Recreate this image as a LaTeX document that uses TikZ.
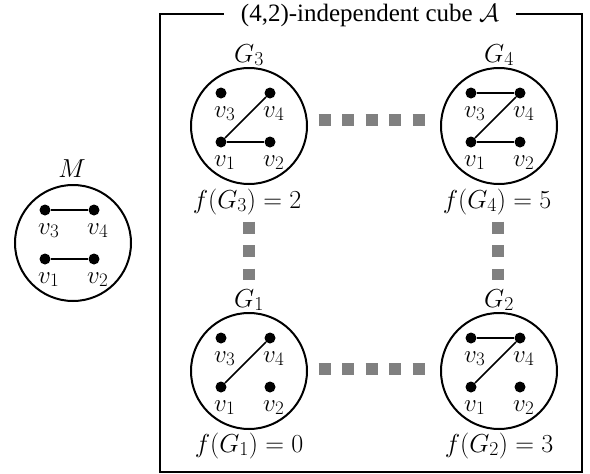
\RequirePackage{fix-cm}
\documentclass[tikz,border=0pt]{standalone}
\usepackage{fontspec}
\setmainfont{Liberation Serif}
\renewcommand\defaultscriptratio{.76}
\renewcommand\defaultscriptscriptratio{.6}
\definecolor{sqgray}{HTML}{808080}
\tikzset{
  dot/.style={circle, fill=black, inner sep=0pt, minimum size=11pt},
  gcirc/.style={circle, draw=black, line width=2pt, minimum size=116pt, inner sep=0pt, outer sep=0pt},
  edge/.style={line width=1.6pt},
  vlab/.style={inner sep=0pt, anchor=base west, font=\fontsize{25}{29}\selectfont},
  glab/.style={inner sep=0pt, anchor=base, font=\fontsize{26}{30}\selectfont},
  sq/.style={draw=sqgray, line width=12pt, dash pattern=on 12pt off 11.5pt},
  frame/.style={draw=black, line width=2pt},
  titlebox/.style={inner xsep=17pt, inner ysep=0pt, font=\fontsize{25}{29}\selectfont},
}
\newcommand{\mkgraph}[3]{%
  \node[gcirc] (#1) at (#2,#3) {};
  \node[dot] (#1v1) at ({#2-28},{#3+16}) {};
  \node[dot] (#1v2) at ({#2+21},{#3+16}) {};
  \node[dot] (#1v3) at ({#2-28},{#3-33}) {};
  \node[dot] (#1v4) at ({#2+21},{#3-33}) {};
  \node[vlab] (#1l1) at ({#2-35},{#3+40}) {$v_1$};
  \node[vlab] (#1l2) at ({#2+14},{#3+40}) {$v_2$};
  \node[vlab] (#1l3) at ({#2-35},{#3-9}) {$v_3$};
  \node[vlab] (#1l4) at ({#2+14},{#3-9}) {$v_4$};
}
\begin{document}
\begin{tikzpicture}[x=1pt,y=-1pt]
\useasboundingbox (0,0) rectangle (590,474);
% frame and title
\node[titlebox] (T) at (370,15) {(4,2)-independent cube $\mathcal{A}$};
\draw[frame] (T.west |- 0,14) -- (160,14) -- (160,472) -- (582,472) -- (582,14) -- (T.east |- 0,14);
% graphs
\mkgraph{M}{73}{243}
\mkgraph{GC}{249}{126}
\mkgraph{GD}{499}{126}
\mkgraph{GA}{249}{371}
\mkgraph{GB}{499}{371}
% edges
\draw[edge] (Mv3) -- (Mv4);
\draw[edge] (Mv1) -- (Mv2);
\draw[edge] (GCv1) -- (GCv4);
\draw[edge] (GCv1) -- (GCv2);
\draw[edge] (GDv3) -- (GDv4);
\draw[edge] (GDv1) -- (GDv4);
\draw[edge] (GDv1) -- (GDv2);
\draw[edge] (GAv1) -- (GAv4);
\draw[edge] (GBv3) -- (GBv4);
\draw[edge] (GBv1) -- (GBv4);
% graph names
\node[glab] (Mn) at (72,177) {$M$};
\node[glab] (GCn) at (249,62) {$G_3$};
\node[glab] (GDn) at (499,62) {$G_4$};
\node[glab] (GAn) at (249,307) {$G_1$};
\node[glab] (GBn) at (499,307) {$G_2$};
% values
\node[glab] (GCf) at (247,208) {$f(G_3)=2$};
\node[glab] (GDf) at (497,208) {$f(G_4)=5$};
\node[glab] (GAf) at (249,452) {$f(G_1)=0$};
\node[glab] (GBf) at (499,452) {$f(G_2)=3$};
% square-dotted connectors
\draw[sq, shorten <=11.5pt, shorten >=16.5pt] ([yshift=6pt]GC.east) -- ([yshift=6pt]GD.west);
\draw[sq, shorten <=11.5pt, shorten >=16.5pt] ([yshift=2pt]GA.east) -- ([yshift=2pt]GB.west);
\draw[sq, shorten <=37.5pt, shorten >=33pt] (GC.south) -- (GA.north);
\draw[sq, shorten <=37.5pt, shorten >=33pt] ([xshift=-1pt]GD.south) -- ([xshift=-1pt]GB.north);
\end{tikzpicture}
\end{document}
